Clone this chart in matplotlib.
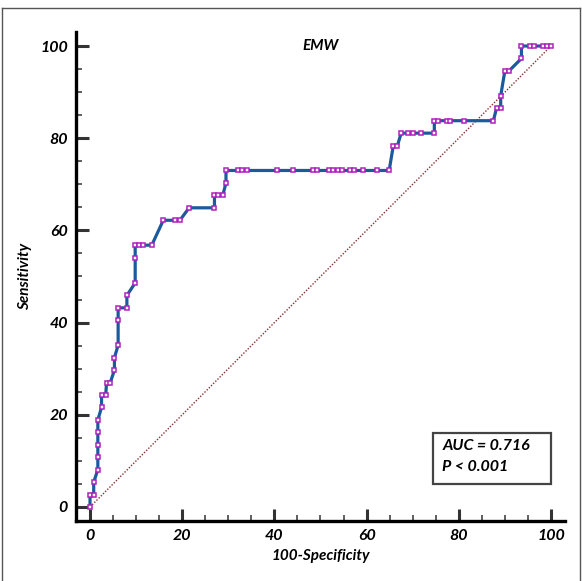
import matplotlib
matplotlib.use("Agg")
import matplotlib.pyplot as plt
from matplotlib.ticker import MultipleLocator
from matplotlib.lines import Line2D
from matplotlib.patches import Rectangle

# ROC curve points (100-Specificity, Sensitivity)
fpr = [0, 0, 0.8, 0.8, 1.7, 1.7, 1.7, 1.7, 1.7, 2.5, 2.5, 3.4, 3.6, 4.4,
       5.3, 5.3, 6.1, 6.1, 6.1, 8.0, 8.0, 9.8, 9.8, 9.8, 10.6, 11.5, 13.4,
       15.9, 18.4, 19.5, 21.5, 27.0, 27.0, 27.8, 28.8, 29.5, 29.5, 32.0,
       32.9, 34.0, 40.5, 44.1, 48.3, 49.3, 51.9, 52.8, 53.7, 54.7, 56.4,
       57.3, 59.2, 62.2, 64.9, 65.8, 66.7, 67.5, 69.0, 70.1, 71.9, 74.7,
       74.7, 75.5, 77.4, 78.2, 81.2, 87.5, 88.2, 89.1, 89.1, 90.0, 90.9,
       93.6, 93.6, 95.4, 96.3, 98.2, 99.1, 100]
tpr = [0, 2.7, 2.7, 5.4, 8.1, 10.8, 13.5, 16.2, 18.9, 21.6, 24.3, 24.3,
       27.0, 27.0, 29.7, 32.4, 35.1, 40.5, 43.2, 43.2, 45.9, 48.6, 54.1,
       56.8, 56.8, 56.8, 56.8, 62.2, 62.2, 62.2, 64.9, 64.9, 67.6, 67.6,
       67.6, 70.3, 73.0, 73.0, 73.0, 73.0, 73.0, 73.0, 73.0, 73.0, 73.0,
       73.0, 73.0, 73.0, 73.0, 73.0, 73.0, 73.0, 73.0, 78.4, 78.4, 81.1,
       81.1, 81.1, 81.1, 81.1, 83.8, 83.8, 83.8, 83.8, 83.8, 83.8, 86.5,
       86.5, 89.2, 94.6, 94.6, 97.3, 100, 100, 100, 100, 100, 100]

title = "EMW"
xlabel = "100-Specificity"
ylabel = "Sensitivity"
auc_lines = ["AUC = 0.716", "P < 0.001"]
ticks = [0, 20, 40, 60, 80, 100]

plt.rcParams['font.family'] = ['Lato', 'DejaVu Sans']

fig = plt.figure(figsize=(5.82, 5.81), dpi=100)
ax = fig.add_axes([0.1309, 0.1036, 0.8395, 0.841])

ax.plot([0, 100], [0, 100], linestyle=(0, (1, 1.2)), color="#8b2e2e", lw=1.0)
ax.plot(fpr, tpr, color="#1b5a9c", lw=2.3, marker="s", markersize=3.4,
        markerfacecolor="white", markeredgecolor="#b020c0", markeredgewidth=1.1,
        zorder=3)

ax.set_xlim(-3, 103)
ax.set_ylim(-3, 103)
ax.spines['top'].set_visible(False)
ax.spines['right'].set_visible(False)
for s in ('left', 'bottom'):
    ax.spines[s].set_linewidth(2.4)
    ax.spines[s].set_color('black')

ax.set_xticks(ticks)
ax.set_yticks(ticks)
ax.xaxis.set_minor_locator(MultipleLocator(5))
ax.yaxis.set_minor_locator(MultipleLocator(5))
ax.tick_params(which='major', direction='in', length=9, width=2.2, color='#333333',
               pad=6, labelsize=11.5)
ax.tick_params(which='minor', direction='in', length=4.5, width=1.1, color='#333333')
for lab in ax.get_xticklabels() + ax.get_yticklabels():
    lab.set_fontweight('bold')
    lab.set_fontstyle('italic')

ax.set_xlabel(xlabel, fontsize=11, fontweight='bold', fontstyle='italic', labelpad=4)
ax.set_ylabel(ylabel, fontsize=11, fontweight='bold', fontstyle='italic', labelpad=6)
ax.text(50, 100, title, ha='center', va='center', fontsize=11,
        fontweight='bold', fontstyle='italic')

ax.add_patch(Rectangle((74.4, 5.0), 25.6, 11.05, facecolor='white',
                       edgecolor='#444444', linewidth=1.6, zorder=4))
ax.text(76.4, 13.2, auc_lines[0], ha='left', va='center', fontsize=11.5,
        fontweight='bold', fontstyle='italic', zorder=5)
ax.text(76.4, 8.6, auc_lines[1], ha='left', va='center', fontsize=11.5,
        fontweight='bold', fontstyle='italic', zorder=5)

# figure frame
W, H = 582, 581
fig.add_artist(Line2D([2 / W, 2 / W], [0, 1 - 8 / H], transform=fig.transFigure,
                      color='#555555', lw=1))
fig.add_artist(Line2D([2 / W, 580 / W], [1 - 8 / H, 1 - 8 / H], transform=fig.transFigure,
                      color='#555555', lw=1))
fig.add_artist(Line2D([580 / W, 580 / W], [1 - 8 / H, 0], transform=fig.transFigure,
                      color='#555555', lw=1))

fig.savefig("out.png", dpi=100)
